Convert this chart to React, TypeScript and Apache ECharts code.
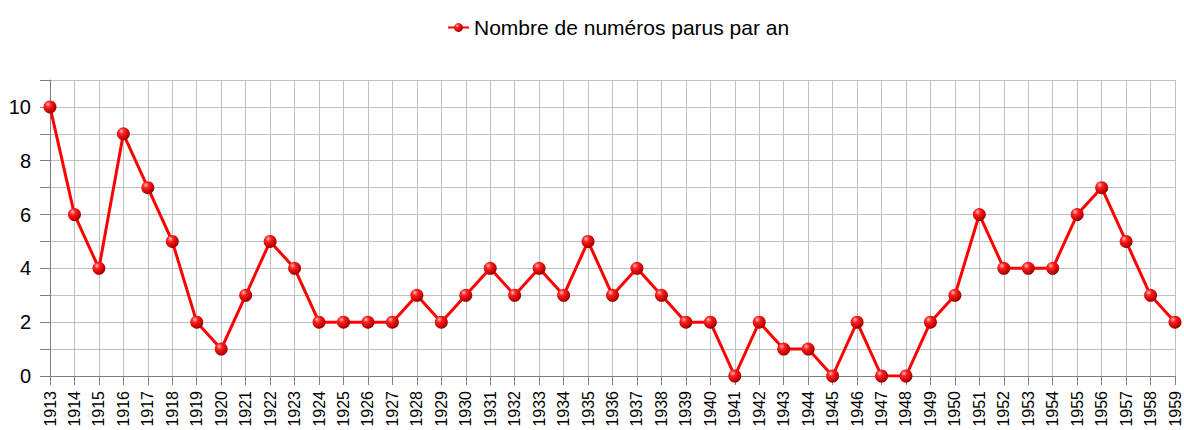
import React, { useEffect, useRef } from "react";
import * as echarts from "echarts";

const years: string[] = [
  "1913","1914","1915","1916","1917","1918","1919","1920","1921","1922",
  "1923","1924","1925","1926","1927","1928","1929","1930","1931","1932",
  "1933","1934","1935","1936","1937","1938","1939","1940","1941","1942",
  "1943","1944","1945","1946","1947","1948","1949","1950","1951","1952",
  "1953","1954","1955","1956","1957","1958","1959",
];
const issues: number[] = [
  10, 6, 4, 9, 7, 5, 2, 1, 3, 5,
  4, 2, 2, 2, 2, 3, 2, 3, 4, 3,
  4, 3, 5, 3, 4, 3, 2, 2, 0, 2,
  1, 1, 0, 2, 0, 0, 2, 3, 6, 4,
  4, 4, 6, 7, 5, 3, 2,
];
const seriesName = "Nombre de numéros parus par an";

export default function App() {
  const ref = useRef<HTMLDivElement>(null);
  useEffect(() => {
    document.body.style.margin = "0";
    const chart = echarts.init(ref.current!, null, { renderer: "svg" });
    const ball = new echarts.graphic.RadialGradient(0.35, 0.3, 0.75, [
      { offset: 0, color: "#ffc0c0" },
      { offset: 0.3, color: "#ff2020" },
      { offset: 0.8, color: "#c00000" },
      { offset: 1, color: "#800000" },
    ]);
    chart.setOption({
      animation: false,
      textStyle: { fontFamily: "Liberation Sans, Arial, sans-serif" },
      legend: {
        top: 12,
        left: 442,
        itemWidth: 21,
        itemHeight: 11,
        itemGap: 4,
        textStyle: { fontSize: 21, color: "#000" },
        data: [seriesName],
      },
      grid: {
        left: 50,
        right: 9,
        top: 80,
        bottom: 54,
        containLabel: false,
        outerBoundsMode: "none",
      },
      xAxis: {
        type: "category",
        data: years,
        boundaryGap: false,
        axisLine: { lineStyle: { color: "#808080", width: 1 } },
        axisTick: { show: true, length: 9, interval: 0, lineStyle: { color: "#808080" } },
        axisLabel: { interval: 0, rotate: 90, margin: 15, fontSize: 16, color: "#000" },
        splitLine: { show: true, interval: 0, lineStyle: { color: "#c0c0c0", width: 1 } },
      },
      yAxis: {
        type: "value",
        min: 0,
        max: 11,
        interval: 1,
        axisLine: { show: true, lineStyle: { color: "#808080", width: 1 } },
        axisTick: { show: true, length: 10, lineStyle: { color: "#808080" } },
        axisLabel: {
          margin: 19,
          fontSize: 20,
          color: "#000",
          formatter: (v: number) => (v % 2 === 0 ? String(v) : ""),
        },
        splitLine: { show: true, lineStyle: { color: "#c0c0c0", width: 1 } },
      },
      series: [
        {
          name: seriesName,
          type: "line",
          data: issues,
          symbol: "circle",
          symbolSize: 13,
          showAllSymbol: true,
          lineStyle: { color: "#ff0000", width: 3 },
          itemStyle: { color: ball, borderWidth: 0 },
          color: "#ff0000",
        },
      ],
    });
    return () => chart.dispose();
  }, []);
  return <div ref={ref} style={{ width: 1184, height: 430 }} />;
}
